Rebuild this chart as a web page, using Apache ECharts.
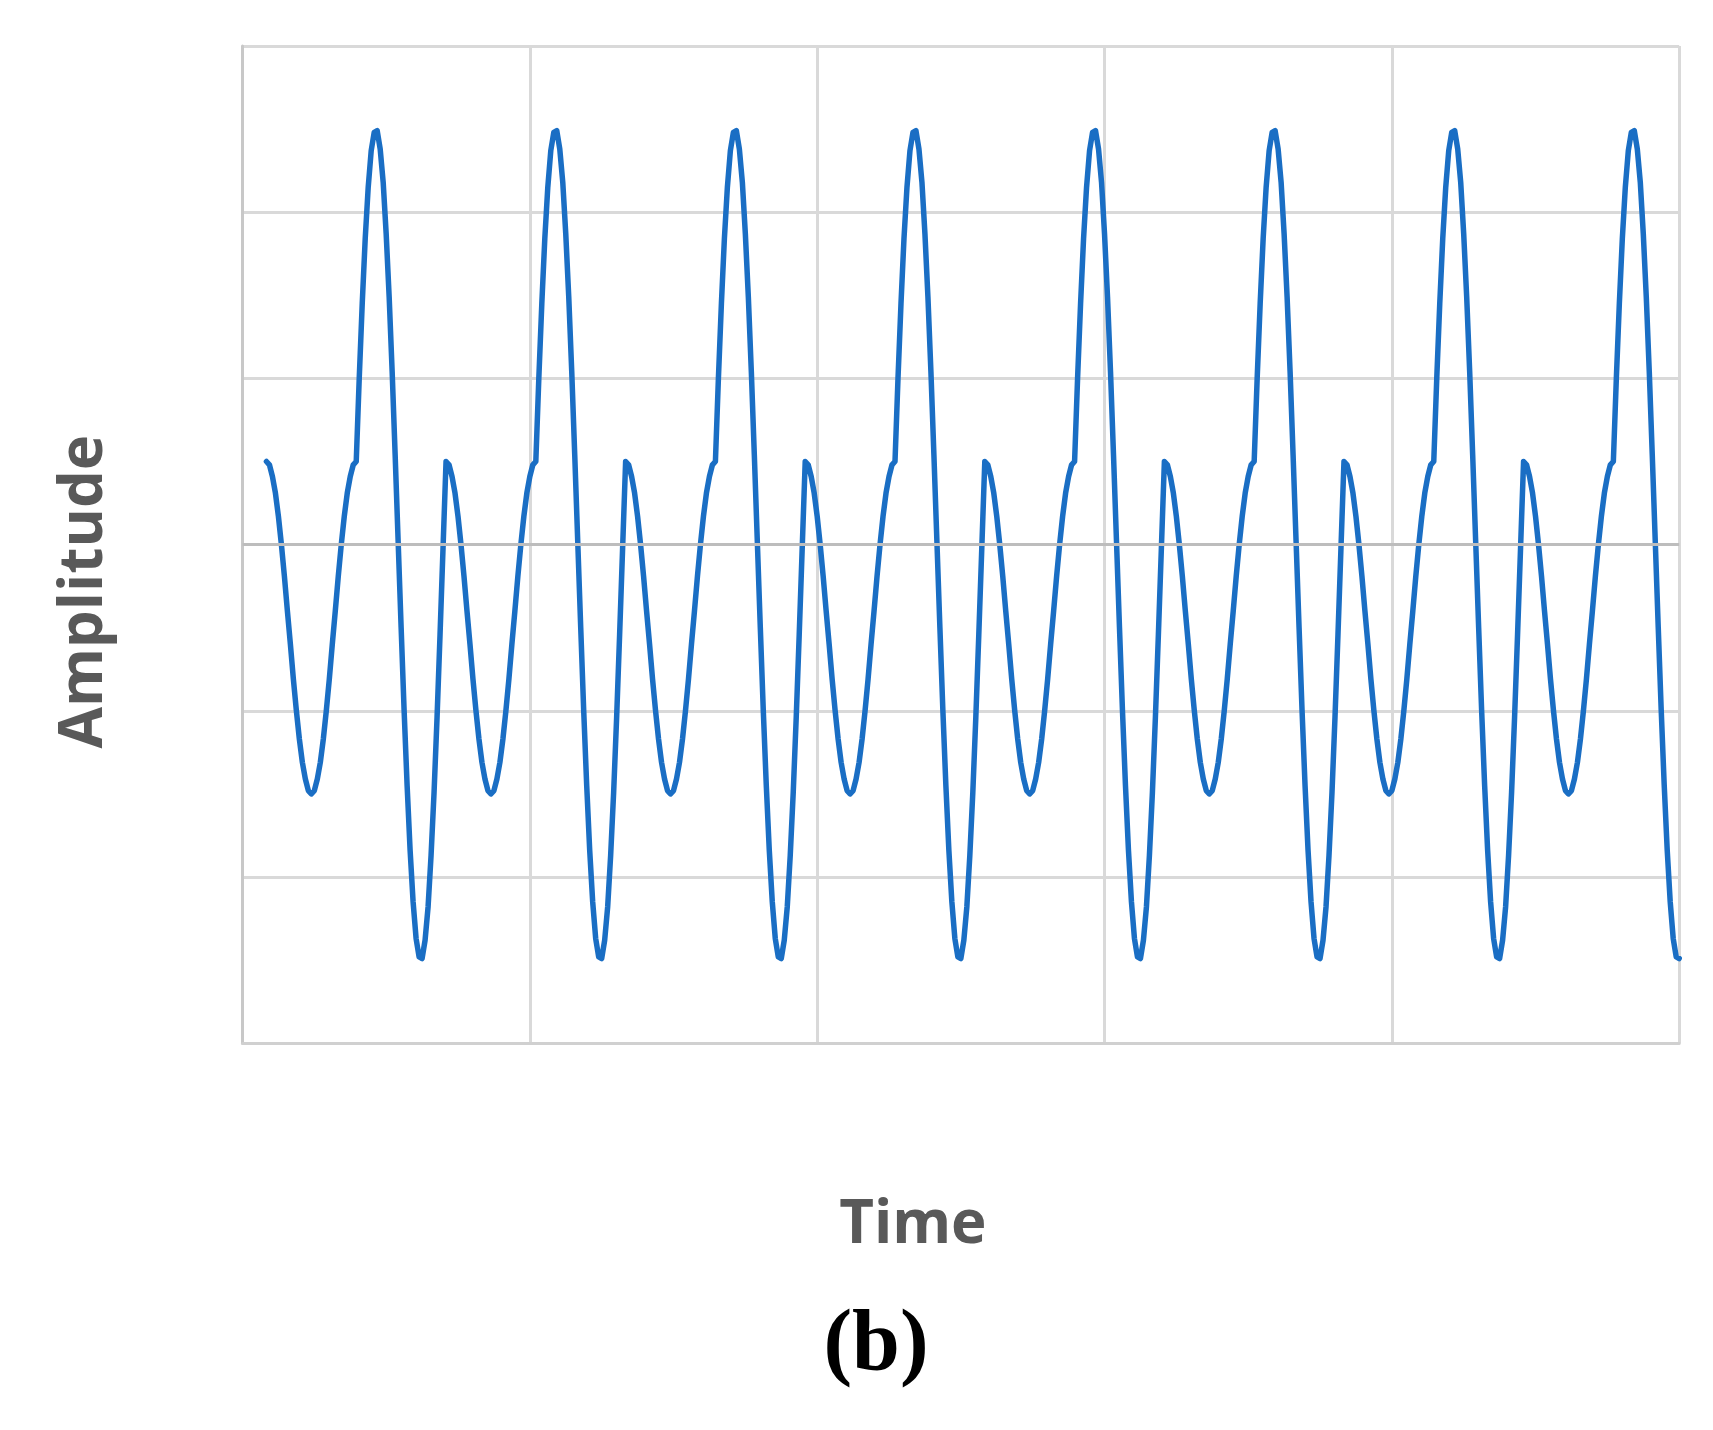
<!DOCTYPE html>
<html>
<head>
<meta charset="utf-8">
<script src="https://cdn.jsdelivr.net/npm/echarts@6/dist/echarts.min.js"></script>
<style>
html,body{margin:0;padding:0;background:#ffffff;}
#chart{width:1713px;height:1430px;}
</style>
</head>
<body>
<div id="chart"></div>
<script>
// Axis ranges (arbitrary units, no tick labels shown in the original)
const timeMin = 0, timeMax = 240, timeGrid = 48;
const ampMin = -3, ampMax = 3, ampGrid = 1;

// Sampling of the waveform: first sample at t = 4, one sample every half time unit
const sampleStart = 4;
const sampleStep = 0.5;

// Amplitude values, cycle by cycle (each cycle = 60 samples)
const cycle1 = [0.5,0.48,0.41,0.31,0.17,0,-0.19,-0.4,-0.6,-0.81,-1,-1.17,-1.31,-1.41,-1.48,-1.5,-1.48,-1.41,-1.31,-1.17,-1,-0.81,-0.6,-0.4,-0.19,0,0.17,0.31,0.41,0.48,0.5,1,1.45,1.84,2.15,2.37,2.48,2.49,2.38,2.18,1.87,1.49,1.04,0.54,0.02,-0.5,-1,-1.45,-1.84,-2.15,-2.37,-2.48,-2.49,-2.38,-2.18,-1.87,-1.49,-1.04,-0.54,-0.02];
const cycle2 = [0.5,0.48,0.41,0.31,0.17,0,-0.19,-0.4,-0.6,-0.81,-1,-1.17,-1.31,-1.41,-1.48,-1.5,-1.48,-1.41,-1.31,-1.17,-1,-0.81,-0.6,-0.4,-0.19,0,0.17,0.31,0.41,0.48,0.5,1,1.45,1.84,2.15,2.37,2.48,2.49,2.38,2.18,1.87,1.49,1.04,0.54,0.02,-0.5,-1,-1.45,-1.84,-2.15,-2.37,-2.48,-2.49,-2.38,-2.18,-1.87,-1.49,-1.04,-0.54,-0.02];
const cycle3 = [0.5,0.48,0.41,0.31,0.17,0,-0.19,-0.4,-0.6,-0.81,-1,-1.17,-1.31,-1.41,-1.48,-1.5,-1.48,-1.41,-1.31,-1.17,-1,-0.81,-0.6,-0.4,-0.19,0,0.17,0.31,0.41,0.48,0.5,1,1.45,1.84,2.15,2.37,2.48,2.49,2.38,2.18,1.87,1.49,1.04,0.54,0.02,-0.5,-1,-1.45,-1.84,-2.15,-2.37,-2.48,-2.49,-2.38,-2.18,-1.87,-1.49,-1.04,-0.54,-0.02];
const cycle4 = [0.5,0.48,0.41,0.31,0.17,0,-0.19,-0.4,-0.6,-0.81,-1,-1.17,-1.31,-1.41,-1.48,-1.5,-1.48,-1.41,-1.31,-1.17,-1,-0.81,-0.6,-0.4,-0.19,0,0.17,0.31,0.41,0.48,0.5,1,1.45,1.84,2.15,2.37,2.48,2.49,2.38,2.18,1.87,1.49,1.04,0.54,0.02,-0.5,-1,-1.45,-1.84,-2.15,-2.37,-2.48,-2.49,-2.38,-2.18,-1.87,-1.49,-1.04,-0.54,-0.02];
const cycle5 = [0.5,0.48,0.41,0.31,0.17,0,-0.19,-0.4,-0.6,-0.81,-1,-1.17,-1.31,-1.41,-1.48,-1.5,-1.48,-1.41,-1.31,-1.17,-1,-0.81,-0.6,-0.4,-0.19,0,0.17,0.31,0.41,0.48,0.5,1,1.45,1.84,2.15,2.37,2.48,2.49,2.38,2.18,1.87,1.49,1.04,0.54,0.02,-0.5,-1,-1.45,-1.84,-2.15,-2.37,-2.48,-2.49,-2.38,-2.18,-1.87,-1.49,-1.04,-0.54,-0.02];
const cycle6 = [0.5,0.48,0.41,0.31,0.17,0,-0.19,-0.4,-0.6,-0.81,-1,-1.17,-1.31,-1.41,-1.48,-1.5,-1.48,-1.41,-1.31,-1.17,-1,-0.81,-0.6,-0.4,-0.19,0,0.17,0.31,0.41,0.48,0.5,1,1.45,1.84,2.15,2.37,2.48,2.49,2.38,2.18,1.87,1.49,1.04,0.54,0.02,-0.5,-1,-1.45,-1.84,-2.15,-2.37,-2.48,-2.49,-2.38,-2.18,-1.87,-1.49,-1.04,-0.54,-0.02];
const cycle7 = [0.5,0.48,0.41,0.31,0.17,0,-0.19,-0.4,-0.6,-0.81,-1,-1.17,-1.31,-1.41,-1.48,-1.5,-1.48,-1.41,-1.31,-1.17,-1,-0.81,-0.6,-0.4,-0.19,0,0.17,0.31,0.41,0.48,0.5,1,1.45,1.84,2.15,2.37,2.48,2.49,2.38,2.18,1.87,1.49,1.04,0.54,0.02,-0.5,-1,-1.45,-1.84,-2.15,-2.37,-2.48,-2.49,-2.38,-2.18,-1.87,-1.49,-1.04,-0.54,-0.02];
const cycle8 = [0.5,0.48,0.41,0.31,0.17,0,-0.19,-0.4,-0.6,-0.81,-1,-1.17,-1.31,-1.41,-1.48,-1.5,-1.48,-1.41,-1.31,-1.17,-1,-0.81,-0.6,-0.4,-0.19,0,0.17,0.31,0.41,0.48,0.5,1,1.45,1.84,2.15,2.37,2.48,2.49,2.38,2.18,1.87,1.49,1.04,0.54,0.02,-0.5,-1,-1.45,-1.84,-2.15,-2.37,-2.48,-2.49];

const xTitle = 'Time';
const yTitle = 'Amplitude';
const panelLabel = '(b)';

const amplitude = [].concat(cycle1, cycle2, cycle3, cycle4, cycle5, cycle6, cycle7, cycle8);
const seriesData = amplitude.map((v, i) => [sampleStart + i * sampleStep, v]);

const gridColor = '#d9d9d9';
const titleFont = {fontFamily: 'Open Sans', fontWeight: 'bold', fontSize: 60, color: '#595959'};
const chart = echarts.init(document.getElementById('chart'), null, {renderer: 'canvas'});
chart.setOption({
  backgroundColor: '#ffffff',
  animation: false,
  grid: {left: 242.5, right: 33.8, top: 45.9, bottom: 386.7, containLabel: false},
  xAxis: {
    type: 'value', min: timeMin, max: timeMax, interval: timeGrid,
    name: xTitle, nameLocation: 'middle', nameGap: 153,
    nameTextStyle: Object.assign({padding: [0, 96, 0, 0]}, titleFont),
    axisLine: {show: true, onZero: false, lineStyle: {color: '#d0d0d0', width: 3}},
    axisTick: {show: false}, axisLabel: {show: false},
    splitLine: {show: true, lineStyle: {color: gridColor, width: 3}}
  },
  yAxis: {
    type: 'value', min: ampMin, max: ampMax, interval: ampGrid,
    name: yTitle, nameLocation: 'middle', nameGap: 128,
    nameTextStyle: Object.assign({padding: [0, 94, 0, 0]}, titleFont),
    axisLine: {show: true, lineStyle: {color: '#c8c8c8', width: 3}},
    axisTick: {show: false}, axisLabel: {show: false},
    splitLine: {show: true, lineStyle: {color: gridColor, width: 3}}
  },
  series: [{
    type: 'line',
    data: seriesData,
    showSymbol: false,
    smooth: false,
    lineStyle: {color: '#1a6ec4', width: 5.5, join: 'round', cap: 'round'},
    clip: false,
    markLine: {
      silent: true, symbol: 'none', label: {show: false},
      lineStyle: {color: '#bdbdbd', width: 3, type: 'solid'},
      data: [{yAxis: 0}]
    },
    z: 3
  }],
  graphic: [{
    type: 'text', x: 876, y: 1347,
    style: {text: panelLabel, font: 'bold 86px "Liberation Serif", "Times New Roman", serif', fill: '#000000', align: 'center', verticalAlign: 'middle'}
  }]
});
</script>
</body>
</html>
